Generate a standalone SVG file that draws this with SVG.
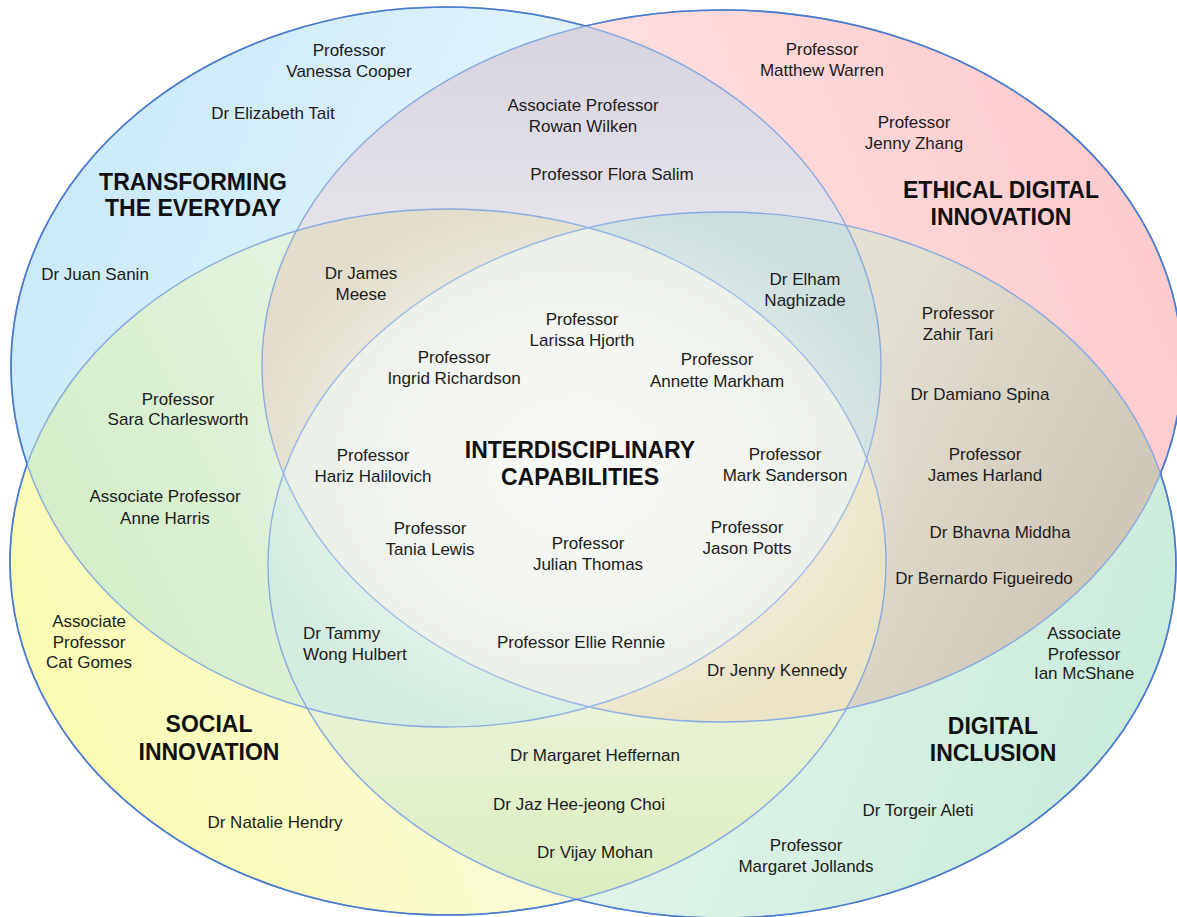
<svg xmlns="http://www.w3.org/2000/svg" width="1177" height="917" viewBox="0 0 1177 917">
<style>
text{font-family:"Liberation Sans",Arial,sans-serif;fill:#1c1c1c;text-anchor:middle}
.n{font-size:17px}
.h{font-size:23px;font-weight:bold;fill:#111}
.l{text-anchor:start}
.so{fill:none;stroke:#4b7bcc;stroke-width:1.7}
.si{fill:none;stroke:#88aadf;stroke-width:1.4}
</style>
<defs>
<clipPath id="cA"><ellipse cx="446" cy="367" rx="435" ry="360"/></clipPath>
<clipPath id="cB"><ellipse cx="722" cy="366" rx="460" ry="356"/></clipPath>
<clipPath id="cC"><ellipse cx="448" cy="562" rx="438" ry="353"/></clipPath>
<linearGradient id="gA" gradientUnits="userSpaceOnUse" x1="40" y1="200" x2="560" y2="420"><stop offset="0" stop-color="#cae9f8"/><stop offset="1" stop-color="#e6f5fb"/></linearGradient>
<linearGradient id="gB" gradientUnits="userSpaceOnUse" x1="1150" y1="200" x2="620" y2="420"><stop offset="0" stop-color="#fdcacc"/><stop offset="1" stop-color="#fde4e4"/></linearGradient>
<linearGradient id="gC" gradientUnits="userSpaceOnUse" x1="40" y1="720" x2="560" y2="520"><stop offset="0" stop-color="#fafcb2"/><stop offset="1" stop-color="#fbfbe0"/></linearGradient>
<linearGradient id="gD" gradientUnits="userSpaceOnUse" x1="1150" y1="720" x2="620" y2="520"><stop offset="0" stop-color="#c9ecda"/><stop offset="1" stop-color="#e4f4ec"/></linearGradient>
<linearGradient id="gAB" gradientUnits="userSpaceOnUse" x1="600" y1="30" x2="600" y2="240"><stop offset="0" stop-color="#d8d4e0"/><stop offset="1" stop-color="#e6e3ea"/></linearGradient>
<linearGradient id="gAC" gradientUnits="userSpaceOnUse" x1="30" y1="460" x2="300" y2="330"><stop offset="0" stop-color="#d3eec9"/><stop offset="1" stop-color="#e2f2dc"/></linearGradient>
<linearGradient id="gBD" gradientUnits="userSpaceOnUse" x1="1150" y1="460" x2="880" y2="330"><stop offset="0" stop-color="#d0c8b7"/><stop offset="1" stop-color="#e3dfd1"/></linearGradient>
<linearGradient id="gCD" gradientUnits="userSpaceOnUse" x1="600" y1="900" x2="600" y2="700"><stop offset="0" stop-color="#dcedc1"/><stop offset="1" stop-color="#e8f2d5"/></linearGradient>
<radialGradient id="glow" gradientUnits="userSpaceOnUse" cx="0" cy="0" r="1" gradientTransform="translate(578 468) scale(330 270)">
<stop offset="0" stop-color="#fff" stop-opacity="0.66"/><stop offset="0.5" stop-color="#fff" stop-opacity="0.5"/><stop offset="0.8" stop-color="#fff" stop-opacity="0.22"/><stop offset="1" stop-color="#fff" stop-opacity="0"/>
</radialGradient>
<mask id="mA" maskUnits="userSpaceOnUse" x="0" y="0" width="1177" height="917"><rect width="1177" height="917" fill="#fff"/><ellipse cx="722" cy="366" rx="460" ry="356"/><ellipse cx="448" cy="562" rx="438" ry="353"/><ellipse cx="722" cy="565" rx="454" ry="353"/></mask>
<mask id="mB" maskUnits="userSpaceOnUse" x="0" y="0" width="1177" height="917"><rect width="1177" height="917" fill="#fff"/><ellipse cx="446" cy="367" rx="435" ry="360"/><ellipse cx="448" cy="562" rx="438" ry="353"/><ellipse cx="722" cy="565" rx="454" ry="353"/></mask>
<mask id="mC" maskUnits="userSpaceOnUse" x="0" y="0" width="1177" height="917"><rect width="1177" height="917" fill="#fff"/><ellipse cx="446" cy="367" rx="435" ry="360"/><ellipse cx="722" cy="366" rx="460" ry="356"/><ellipse cx="722" cy="565" rx="454" ry="353"/></mask>
<mask id="mD" maskUnits="userSpaceOnUse" x="0" y="0" width="1177" height="917"><rect width="1177" height="917" fill="#fff"/><ellipse cx="446" cy="367" rx="435" ry="360"/><ellipse cx="722" cy="366" rx="460" ry="356"/><ellipse cx="448" cy="562" rx="438" ry="353"/></mask>
</defs>
<rect width="1177" height="917" fill="#fff"/>
<g id="fills">
<ellipse cx="446" cy="367" rx="435" ry="360" fill="url(#gA)"/>
<ellipse cx="722" cy="366" rx="460" ry="356" fill="url(#gB)"/>
<ellipse cx="448" cy="562" rx="438" ry="353" fill="url(#gC)"/>
<ellipse cx="722" cy="565" rx="454" ry="353" fill="url(#gD)"/>
<g clip-path="url(#cA)"><ellipse cx="722" cy="366" rx="460" ry="356" fill="url(#gAB)"/><ellipse cx="448" cy="562" rx="438" ry="353" fill="url(#gAC)"/></g>
<g clip-path="url(#cB)"><ellipse cx="722" cy="565" rx="454" ry="353" fill="url(#gBD)"/></g>
<g clip-path="url(#cC)"><ellipse cx="722" cy="565" rx="454" ry="353" fill="url(#gCD)"/></g>
<g clip-path="url(#cA)"><g clip-path="url(#cB)"><ellipse cx="448" cy="562" rx="438" ry="353" fill="#e3decc"/><ellipse cx="722" cy="565" rx="454" ry="353" fill="#ccdfde"/></g></g>
<g clip-path="url(#cA)"><g clip-path="url(#cC)"><ellipse cx="722" cy="565" rx="454" ry="353" fill="#d4ece0"/></g></g>
<g clip-path="url(#cB)"><g clip-path="url(#cC)"><ellipse cx="722" cy="565" rx="454" ry="353" fill="#eae3c6"/></g></g>
<g clip-path="url(#cA)"><g clip-path="url(#cB)"><g clip-path="url(#cC)"><ellipse cx="722" cy="565" rx="454" ry="353" fill="#e6ece2"/></g></g></g>
</g>
<g id="outlines">
<ellipse class="si" cx="446" cy="367" rx="435" ry="360"/>
<ellipse class="si" cx="722" cy="366" rx="460" ry="356"/>
<ellipse class="si" cx="448" cy="562" rx="438" ry="353"/>
<ellipse class="si" cx="722" cy="565" rx="454" ry="353"/>
<ellipse class="so" mask="url(#mA)" cx="446" cy="367" rx="435" ry="360"/>
<ellipse class="so" mask="url(#mB)" cx="722" cy="366" rx="460" ry="356"/>
<ellipse class="so" mask="url(#mC)" cx="448" cy="562" rx="438" ry="353"/>
<ellipse class="so" mask="url(#mD)" cx="722" cy="565" rx="454" ry="353"/>
</g>
<rect id="glow-overlay" width="1177" height="917" fill="url(#glow)"/>
<g id="headings">
<g id="h-transforming"><text class="h"><tspan x="193" y="190">TRANSFORMING</tspan><tspan x="193" y="216">THE EVERYDAY</tspan></text></g>
<g id="h-ethical"><text class="h"><tspan x="1001" y="198">ETHICAL DIGITAL</tspan><tspan x="1001" y="225">INNOVATION</tspan></text></g>
<g id="h-interdisciplinary"><text class="h"><tspan x="580" y="458">INTERDISCIPLINARY</tspan><tspan x="580" y="485">CAPABILITIES</tspan></text></g>
<g id="h-social"><text class="h"><tspan x="209" y="732">SOCIAL</tspan><tspan x="209" y="760">INNOVATION</tspan></text></g>
<g id="h-inclusion"><text class="h"><tspan x="993" y="734">DIGITAL</tspan><tspan x="993" y="761">INCLUSION</tspan></text></g>
</g>
<g id="names">
<g id="n-cooper"><text class="n"><tspan x="349" y="56">Professor</tspan><tspan x="349" y="77">Vanessa Cooper</tspan></text></g>
<g id="n-tait"><text class="n" x="273" y="119">Dr Elizabeth Tait</text></g>
<g id="n-wilken"><text class="n"><tspan x="583" y="111">Associate Professor</tspan><tspan x="583" y="132">Rowan Wilken</tspan></text></g>
<g id="n-salim"><text class="n" x="612" y="180">Professor Flora Salim</text></g>
<g id="n-warren"><text class="n"><tspan x="822" y="55">Professor</tspan><tspan x="822" y="76">Matthew Warren</tspan></text></g>
<g id="n-zhang"><text class="n"><tspan x="914" y="128">Professor</tspan><tspan x="914" y="149">Jenny Zhang</tspan></text></g>
<g id="n-sanin"><text class="n" x="95" y="280">Dr Juan Sanin</text></g>
<g id="n-meese"><text class="n"><tspan x="361" y="279">Dr James</tspan><tspan x="361" y="300">Meese</tspan></text></g>
<g id="n-naghizade"><text class="n"><tspan x="805" y="285">Dr Elham</tspan><tspan x="805" y="306">Naghizade</tspan></text></g>
<g id="n-tari"><text class="n"><tspan x="958" y="319">Professor</tspan><tspan x="958" y="340">Zahir Tari</tspan></text></g>
<g id="n-hjorth"><text class="n"><tspan x="582" y="325">Professor</tspan><tspan x="582" y="346">Larissa Hjorth</tspan></text></g>
<g id="n-richardson"><text class="n"><tspan x="454" y="363">Professor</tspan><tspan x="454" y="384">Ingrid Richardson</tspan></text></g>
<g id="n-markham"><text class="n"><tspan x="717" y="365">Professor</tspan><tspan x="717" y="387">Annette Markham</tspan></text></g>
<g id="n-spina"><text class="n" x="980" y="400">Dr Damiano Spina</text></g>
<g id="n-charlesworth"><text class="n"><tspan x="178" y="405">Professor</tspan><tspan x="178" y="425">Sara Charlesworth</tspan></text></g>
<g id="n-halilovich"><text class="n"><tspan x="373" y="461">Professor</tspan><tspan x="373" y="482">Hariz Halilovich</tspan></text></g>
<g id="n-sanderson"><text class="n"><tspan x="785" y="460">Professor</tspan><tspan x="785" y="481">Mark Sanderson</tspan></text></g>
<g id="n-harland"><text class="n"><tspan x="985" y="460">Professor</tspan><tspan x="985" y="481">James Harland</tspan></text></g>
<g id="n-harris"><text class="n"><tspan x="165" y="502">Associate Professor</tspan><tspan x="165" y="524">Anne Harris</tspan></text></g>
<g id="n-lewis"><text class="n"><tspan x="430" y="534">Professor</tspan><tspan x="430" y="555">Tania Lewis</tspan></text></g>
<g id="n-thomas"><text class="n"><tspan x="588" y="549">Professor</tspan><tspan x="588" y="570">Julian Thomas</tspan></text></g>
<g id="n-potts"><text class="n"><tspan x="747" y="533">Professor</tspan><tspan x="747" y="554">Jason Potts</tspan></text></g>
<g id="n-middha"><text class="n" x="1000" y="538">Dr Bhavna Middha</text></g>
<g id="n-figueiredo"><text class="n" x="984" y="584">Dr Bernardo Figueiredo</text></g>
<g id="n-gomes"><text class="n"><tspan x="89" y="627">Associate</tspan><tspan x="89" y="648">Professor</tspan><tspan x="89" y="668">Cat Gomes</tspan></text></g>
<g id="n-hulbert"><text class="n l"><tspan x="303" y="639">Dr Tammy</tspan><tspan x="303" y="660">Wong Hulbert</tspan></text></g>
<g id="n-rennie"><text class="n" x="581" y="648">Professor Ellie Rennie</text></g>
<g id="n-kennedy"><text class="n" x="777" y="676">Dr Jenny Kennedy</text></g>
<g id="n-mcshane"><text class="n"><tspan x="1084" y="639">Associate</tspan><tspan x="1084" y="660">Professor</tspan><tspan x="1084" y="679">Ian McShane</tspan></text></g>
<g id="n-heffernan"><text class="n" x="595" y="761">Dr Margaret Heffernan</text></g>
<g id="n-choi"><text class="n" x="579" y="810">Dr Jaz Hee-jeong Choi</text></g>
<g id="n-mohan"><text class="n" x="595" y="858">Dr Vijay Mohan</text></g>
<g id="n-hendry"><text class="n" x="275" y="828">Dr Natalie Hendry</text></g>
<g id="n-aleti"><text class="n" x="918" y="816">Dr Torgeir Aleti</text></g>
<g id="n-jollands"><text class="n"><tspan x="806" y="851">Professor</tspan><tspan x="806" y="872">Margaret Jollands</tspan></text></g>
</g>
</svg>
